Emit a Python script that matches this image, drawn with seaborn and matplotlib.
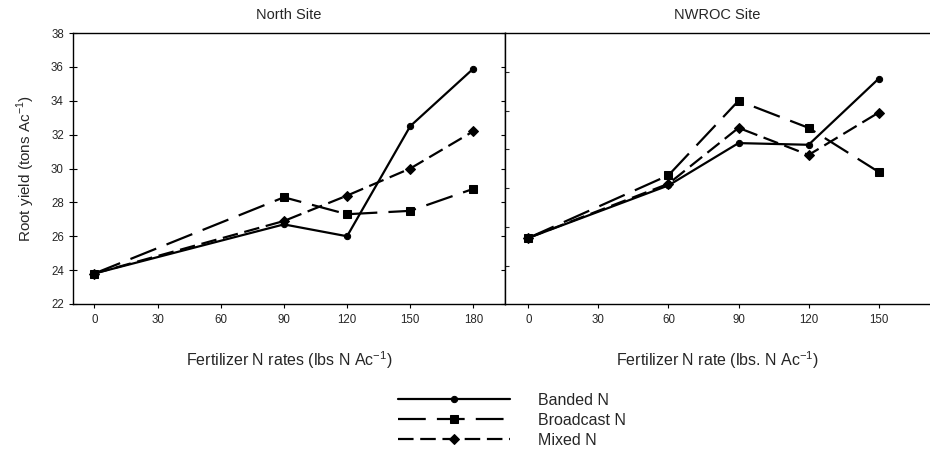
import matplotlib
matplotlib.use("Agg")
import matplotlib.pyplot as plt
import numpy as np
import pandas as pd
import seaborn as sns

TREATMENTS = ["Banded N", "Broadcast N", "Mixed N"]

# North site
NORTH_RATES = [0, 90, 120, 150, 180]
NORTH_BANDED = [23.8, 26.7, 26.0, 32.5, 35.9]
NORTH_BROADCAST = [23.8, 28.3, 27.3, 27.5, 28.8]
NORTH_MIXED = [23.8, 26.9, 28.4, 30.0, 32.2]

# NWROC site
NWROC_RATES = [0, 60, 90, 120, 150]
NWROC_BANDED = [25.9, 29.0, 31.5, 31.4, 35.3]
NWROC_BROADCAST = [25.9, 29.6, 34.0, 32.4, 29.8]
NWROC_MIXED = [25.9, 29.1, 32.4, 30.8, 33.3]

Y_TICKS = [22, 24, 26, 28, 30, 32, 34, 36, 38]
X_TICKS_NORTH = [0, 30, 60, 90, 120, 150, 180]
X_TICKS_NWROC = [0, 30, 60, 90, 120, 150]


def long_df(rates, banded, broadcast, mixed):
    rows = []
    for name, vals in zip(TREATMENTS, [banded, broadcast, mixed]):
        for r, v in zip(rates, vals):
            rows.append({"rate": r, "yield": v, "treatment": name})
    return pd.DataFrame(rows)


df_north = long_df(NORTH_RATES, NORTH_BANDED, NORTH_BROADCAST, NORTH_MIXED)
df_nwroc = long_df(NWROC_RATES, NWROC_BANDED, NWROC_BROADCAST, NWROC_MIXED)

sns.set_style("ticks")
plt.rcParams["font.family"] = ["Liberation Sans", "DejaVu Sans"]
plt.rcParams["mathtext.fontset"] = "custom"
plt.rcParams["mathtext.rm"] = "Liberation Sans"

styles = {
    "Banded N": dict(dashes=(None, None), marker="o", ms=4.5),
    "Broadcast N": dict(dashes=(12.5, 5), marker="s", ms=5.5),
    "Mixed N": dict(dashes=(7, 3), marker="D", ms=5),
}

fig = plt.figure(figsize=(9.3, 4.5), dpi=100)
ax1 = fig.add_axes([73.3 / 930, 1 - 304 / 450, (505 - 73.3) / 930, (304 - 33) / 450])
ax2 = fig.add_axes([505 / 930, 1 - 304 / 450, (930 - 505) / 930, (304 - 33) / 450])

for ax, df in [(ax1, df_north), (ax2, df_nwroc)]:
    for t in TREATMENTS:
        st = styles[t]
        sub = df[df["treatment"] == t]
        line = sns.lineplot(
            data=sub, x="rate", y="yield", ax=ax, color="black",
            linewidth=1.6, marker=st["marker"], markersize=st["ms"],
            markeredgecolor="black", label=t, legend=False,
        ).get_lines()[-1]
        if st["dashes"][0] is not None:
            line.set_dashes(st["dashes"])
    for s in ax.spines.values():
        s.set_linewidth(1.0)
        s.set_color("black")
    ax.set_ylim(22, 38)
    ax.set_yticks(Y_TICKS)
    ax.tick_params(axis="both", direction="out", length=3, width=0.8,
                   labelsize=8.3, color="black", pad=4)
    ax.set_xlabel("")
    ax.set_ylabel("")

sup = "$^{\\mathregular{-1}}$"
ax1.set_xlim(-10, 195)
ax1.set_xticks(X_TICKS_NORTH)
ax1.tick_params(axis="y", direction="inout", length=5.5)
ax1.set_title("North Site", fontsize=10.5, pad=10)
ax1.set_xlabel("Fertilizer N rates (lbs N Ac" + sup + ")", fontsize=11.5, labelpad=17)
ax1.set_ylabel("Root yield (tons Ac" + sup + ")", fontsize=11, labelpad=10)

ax2.set_xlim(-10, 172)
ax2.set_xticks(X_TICKS_NWROC)
ax2.set_yticklabels([])
ax2.set_yticks([24.25, 26.55, 28.85, 31.15, 33.4, 35.7], minor=True)
ax2.tick_params(axis="y", which="minor", direction="in", length=3, width=0.8)
ax2.spines["right"].set_visible(False)
ax2.set_title("NWROC Site", fontsize=10.5, pad=10)
ax2.set_xlabel("Fertilizer N rate (lbs. N Ac" + sup + ")", fontsize=11.5, labelpad=17)

handles = ax1.get_lines()[:3]
fig.legend(
    handles, TREATMENTS, loc="upper left",
    bbox_to_anchor=(398 / 930, 1 - 393 / 450), frameon=False,
    fontsize=11.5, handlelength=7, handletextpad=1.75, labelspacing=0.3,
    borderpad=0, borderaxespad=0,
)

fig.savefig("out.png", dpi=100)
